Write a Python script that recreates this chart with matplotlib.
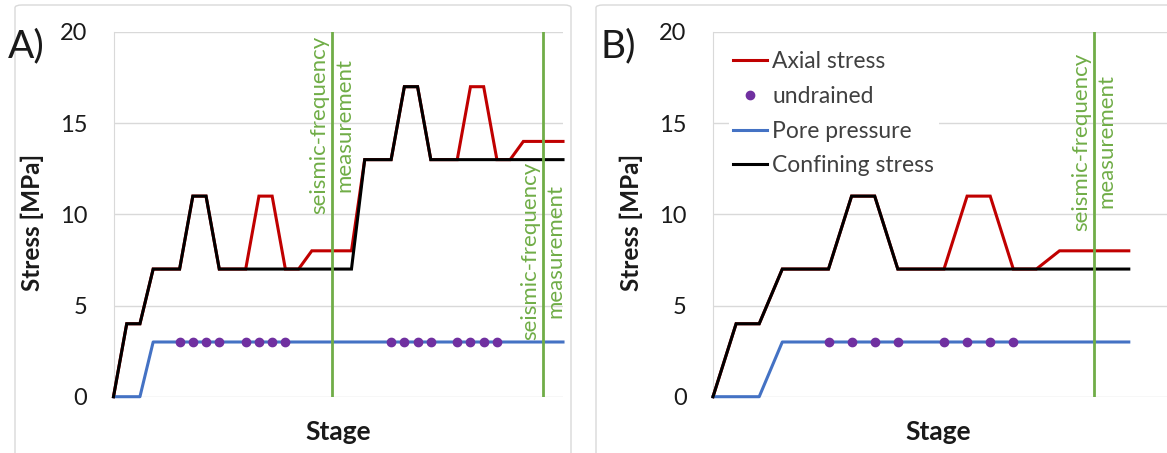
import numpy as np
import matplotlib.pyplot as plt
from matplotlib.patches import FancyBboxPatch
from matplotlib.lines import Line2D

plt.rcParams['font.family'] = ['Lato', 'DejaVu Sans']

# Panel A: stress path over 35 stages
axial_a = [0, 4, 4, 7, 7, 7, 11, 11, 7, 7, 7, 11, 11, 7, 7, 8, 8, 8, 8,
           13, 13, 13, 17, 17, 13, 13, 13, 17, 17, 13, 13, 14, 14, 14, 14]
confining_a = [0, 4, 4, 7, 7, 7, 11, 11, 7, 7, 7, 7, 7, 7, 7, 7, 7, 7, 7,
               13, 13, 13, 17, 17, 13, 13, 13, 13, 13, 13, 13, 13, 13, 13, 13]
pore_a = [0, 0, 0] + [3] * 32
undrained_a = [5, 6, 7, 8, 10, 11, 12, 13, 21, 22, 23, 24, 26, 27, 28, 29]
seismic_a = [16.5, 32.5]
seismic_text_y_a = [14.9, 8.0]

# Panel B: stress path over 19 stages
axial_b = [0, 4, 4, 7, 7, 7, 11, 11, 7, 7, 7, 11, 11, 7, 7, 8, 8, 8, 8]
confining_b = [0, 4, 4, 7, 7, 7, 11, 11, 7, 7, 7, 7, 7, 7, 7, 7, 7, 7, 7]
pore_b = [0, 0, 0] + [3] * 16
undrained_b = [5, 6, 7, 8, 10, 11, 12, 13]
seismic_b = [16.5]
seismic_text_y_b = [14.0]

undrained_level = 3
yticks = [0, 5, 10, 15, 20]

RED = '#C00000'
BLUE = '#4472C4'
PURPLE = '#7030A0'
GREEN = '#70AD47'
GRID = '#D9D9D9'
TXT = '#1a1a1a'

W, H = 1167, 453
fig = plt.figure(figsize=(W / 100, H / 100), dpi=100)


def px_axes(x0, x1, y_top, y_bot):
    return fig.add_axes([x0 / W, (H - y_bot) / H, (x1 - x0) / W, (y_bot - y_top) / H])


# chart-area frames
for x0, x1 in [(15, 571), (596, 1190)]:
    fig.patches.append(FancyBboxPatch((x0 / W, -0.05), (x1 - x0) / W, 448 / H + 0.05,
                                      boxstyle='round,pad=0,rounding_size=0.006',
                                      transform=fig.transFigure, facecolor='white',
                                      edgecolor=GRID, linewidth=1.0, zorder=-10))


def draw_panel(ax, axial, confining, pore, undrained, seismic, text_y, xmax):
    x = np.arange(len(axial))
    ax.set_xlim(0, xmax)
    ax.set_ylim(0, 20)
    ax.set_yticks(yticks)
    ax.set_xticks([])
    ax.yaxis.grid(True, color=GRID, linewidth=1.0)
    ax.set_axisbelow(True)
    for s in ['top', 'right', 'bottom']:
        ax.spines[s].set_visible(False)
    ax.spines['left'].set_color(GRID)
    ax.tick_params(axis='y', length=0, pad=19, labelsize=17, labelcolor=TXT)

    ax.plot(x, axial, color=RED, lw=2.2, solid_joinstyle='miter', clip_on=False, zorder=3)
    ax.plot(x, confining, color='black', lw=2.2, solid_joinstyle='miter', clip_on=False, zorder=4)
    ax.plot(np.arange(len(pore)), pore, color=BLUE, lw=2.2, clip_on=False, zorder=3)
    ax.plot(undrained, [undrained_level] * len(undrained), 'o', color=PURPLE,
            ms=6, zorder=5, linestyle='none')
    for sx, ty in zip(seismic, text_y):
        ax.axvline(sx, color=GREEN, lw=2.0, zorder=6)
        ax.text(sx, ty, 'seismic-frequency\nmeasurement', rotation=90, color=GREEN,
                ha='center', va='center', multialignment='center', fontsize=16,
                linespacing=1.3, zorder=7)


ax_a = px_axes(113.5, 563, 32, 396.7)
draw_panel(ax_a, axial_a, confining_a, pore_a, undrained_a, seismic_a, seismic_text_y_a, 34)

ax_b = px_axes(713, 1167, 32, 396.7)
draw_panel(ax_b, axial_b, confining_b, pore_b, undrained_b, seismic_b, seismic_text_y_b,
           (1167 - 713) / 23.1)

handles = [Line2D([], [], color=RED, lw=2.2),
           Line2D([], [], color=PURPLE, marker='o', ms=6, linestyle='none'),
           Line2D([], [], color=BLUE, lw=2.2),
           Line2D([], [], color='black', lw=2.2)]
labels = ['Axial stress', 'undrained', 'Pore pressure', 'Confining stress']
leg = ax_b.legend(handles, labels, loc='upper left', bbox_to_anchor=(0.035, 0.96),
                  frameon=True, framealpha=1, edgecolor='none', fancybox=False,
                  fontsize=16.5, handlelength=1.45, handletextpad=0.25,
                  labelspacing=0.6, borderaxespad=0, borderpad=0.2)
for t in leg.get_texts():
    t.set_color('#404040')
leg.set_zorder(8)

# panel tags and axis titles
fig.text(8 / W, 1 - 46 / H, 'A)', fontsize=28, color=TXT, va='center', ha='left')
fig.text(600 / W, 1 - 46 / H, 'B)', fontsize=28, color=TXT, va='center', ha='left')
for xc in [32, 631]:
    fig.text(xc / W, 1 - 222 / H, 'Stress [MPa]', rotation=90, fontsize=17.5,
             fontweight='bold', color=TXT, ha='center', va='center')
for xc in [338, 938]:
    fig.text(xc / W, 1 - 432 / H, 'Stage', fontsize=19, fontweight='bold',
             color=TXT, ha='center', va='center')

fig.savefig('out.png', dpi=100)
